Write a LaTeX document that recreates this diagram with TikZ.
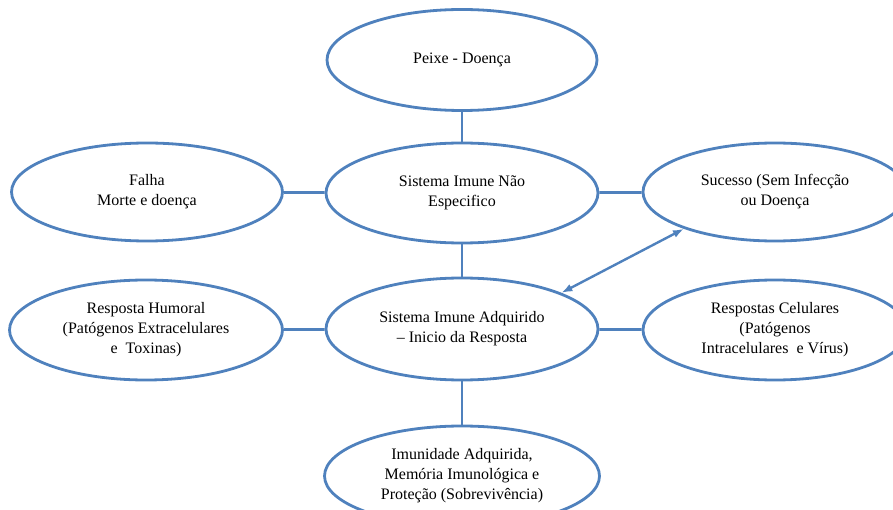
\documentclass[tikz,border=0pt]{standalone}
\usepackage{fontspec}
\setmainfont{Liberation Serif}
\usetikzlibrary{shapes.geometric,arrows.meta}
\definecolor{lineblue}{RGB}{79,129,189}
\tikzset{
  bubble/.style={ellipse, draw=lineblue, line width=2.8pt, fill=white, inner sep=0pt,
    align=center, font=\fontsize{16}{20}\selectfont, text=black},
  link/.style={draw=lineblue, line width=2.8pt},
  twoway/.style={draw=lineblue, line width=2.4pt, {Latex[length=11pt,width=8pt]}-{Latex[length=11pt,width=8pt]}}
}
\begin{document}
\begin{tikzpicture}[x=1pt,y=-1pt]
\useasboundingbox (0,0) rectangle (893,510);
\begin{scope}
\clip (0,0) rectangle (893,510);
\node[bubble, minimum width=270pt, minimum height=101pt] (top) at (462,60) {Peixe - Doença};
\node[bubble, minimum width=272pt, minimum height=100pt] (mid1) at (462,193) {Sistema Imune Não\\Especifico};
\node[bubble, minimum width=271pt, minimum height=98pt] (left1) at (147,192) {Falha\\Morte e doença};
\node[bubble, minimum width=264pt, minimum height=98pt] (right1) at (775,192) {Sucesso (Sem Infecção\\ou Doença};
\node[bubble, minimum width=272pt, minimum height=102pt] (mid2) at (462,329) {Sistema Imune Adquirido\\– Inicio da Resposta};
\node[bubble, minimum width=273pt, minimum height=100pt] (left2) at (146,330) {Resposta Humoral\\(Patógenos Extracelulares\\e \ Toxinas)};
\node[bubble, minimum width=264pt, minimum height=100pt] (right2) at (775,330) {Respostas Celulares\\(Patógenos\\Intracelulares \ e Vírus)};
\node[bubble, minimum width=275pt, minimum height=100pt] (bottom) at (462,476) {Imunidade Adquirida,\\Memória Imunológica e\\Proteção (Sobrevivência)};
\draw[link] (top) -- (mid1);
\draw[link] (mid1) -- (mid2);
\draw[link] (mid2) -- (bottom);
\draw[link] (left1) -- (mid1);
\draw[link] (mid1) -- (right1);
\draw[link] (left2) -- (mid2);
\draw[link] (mid2) -- (right2);
\draw[twoway] (right1.202) -- (mid2.20);
\end{scope}
\end{tikzpicture}
\end{document}
